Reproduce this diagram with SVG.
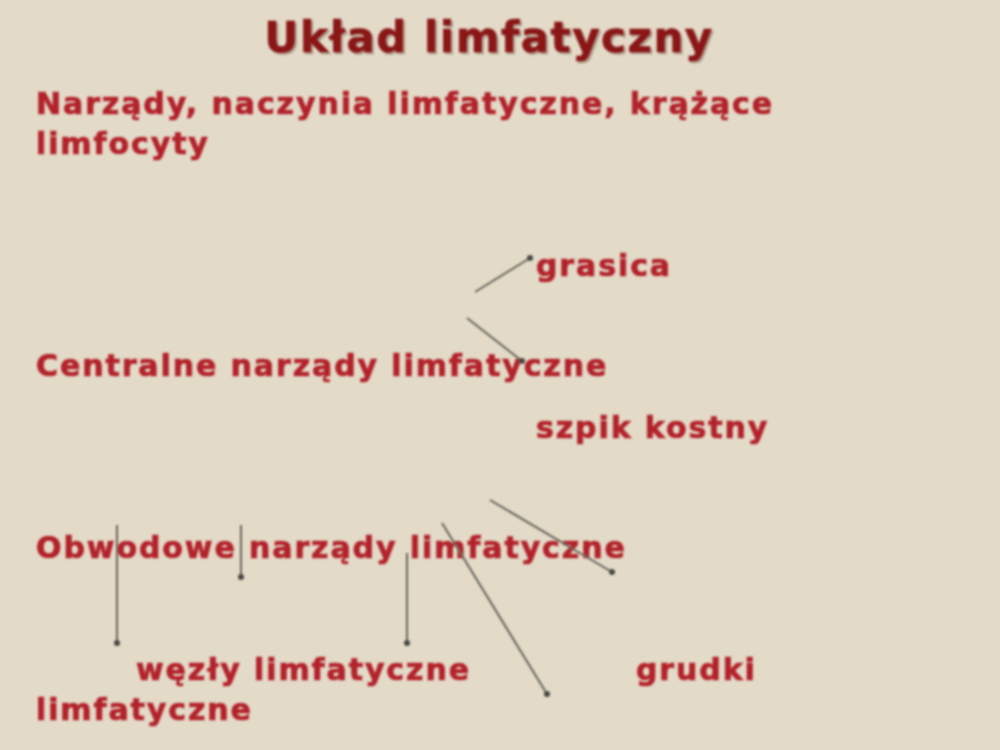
<svg xmlns="http://www.w3.org/2000/svg" width="1000" height="750" viewBox="0 0 1000 750">
<defs>
<filter id="soft" x="-5%" y="-20%" width="110%" height="140%"><feGaussianBlur stdDeviation="1.3"/></filter>
<marker id="dot" viewBox="0 0 10 10" refX="5" refY="5" markerWidth="6" markerHeight="6" markerUnits="userSpaceOnUse"><circle cx="5" cy="5" r="5" fill="#4a4a44"/></marker>
</defs>
<style>
.t{font-family:"DejaVu Sans",sans-serif;font-weight:bold;fill:#b3232c;stroke:#b3232c;stroke-width:0.7px;font-size:30px;letter-spacing:1.9px}
.title{font-family:"DejaVu Sans",sans-serif;font-weight:bold;fill:#8a1416;stroke:#8a1416;stroke-width:0.6px;font-size:42px;letter-spacing:1.5px}
.sh{fill:#5a3a30;stroke:#5a3a30;opacity:0.4}
.c{stroke:#66665c;stroke-width:2;fill:none;marker-end:url(#dot)}
</style>
<rect width="1000" height="750" fill="#e3dac8"/>
<g filter="url(#soft)">
<g id="title"><text class="title sh" x="491" y="54" text-anchor="middle" style="fill:#5a3a30;stroke:#5a3a30">Układ limfatyczny</text><text class="title" x="489" y="52" text-anchor="middle">Układ limfatyczny</text></g>
<g id="intro"><text class="t" x="36" y="114">Narządy, naczynia limfatyczne, krążące</text><text class="t" x="36" y="154">limfocyty</text></g>
<g id="grasica"><text class="t" x="536" y="276">grasica</text></g>
<g id="centralne"><text class="t" x="36" y="376">Centralne narządy limfatyczne</text></g>
<g id="szpik"><text class="t" x="536" y="438">szpik kostny</text></g>
<g id="obwodowe"><text class="t" x="36" y="558">Obwodowe narządy limfatyczne</text></g>
<g id="wezly"><text class="t" x="136" y="680">węzły limfatyczne</text></g>
<g id="grudki"><text class="t" x="636" y="680">grudki</text><text class="t" x="36" y="720">limfatyczne</text></g>
<g id="connectors">
<line class="c" x1="475" y1="292" x2="530" y2="258"/>
<line class="c" x1="467" y1="318" x2="522" y2="361"/>
<line class="c" x1="490" y1="500" x2="612" y2="572"/>
<line class="c" x1="442" y1="523" x2="547" y2="694"/>
<line class="c" x1="117" y1="525" x2="117" y2="643"/>
<line class="c" x1="241" y1="525" x2="241" y2="577"/>
<line class="c" x1="407" y1="553" x2="407" y2="643"/>
</g>
</g>
</svg>
